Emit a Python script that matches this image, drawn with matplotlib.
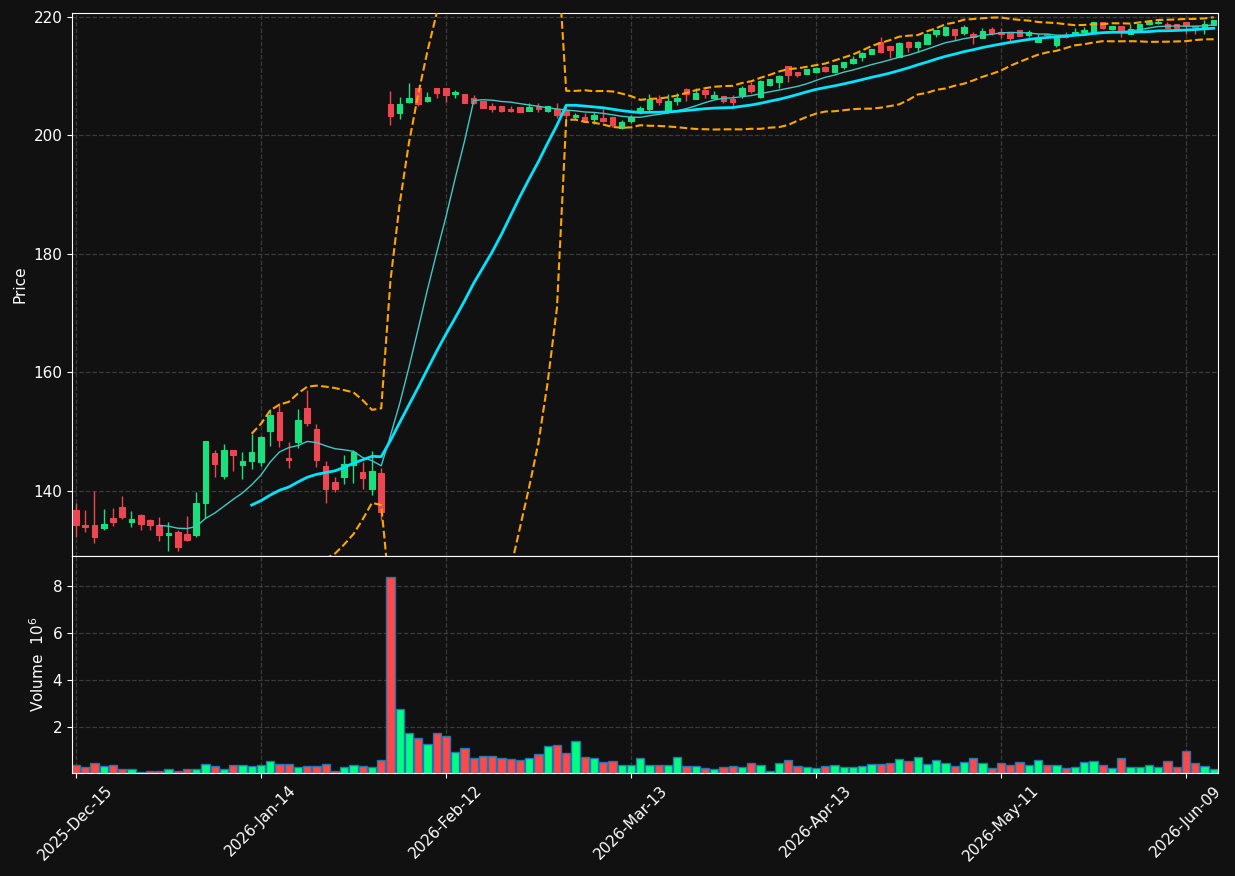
import numpy as np
import pandas as pd
import matplotlib
matplotlib.use("Agg")
import matplotlib.pyplot as plt

# торговые дни (биржевые праздники пропущены)
holidays = ["2025-12-25", "2026-01-01", "2026-01-19", "2026-02-16", "2026-04-03", "2026-05-25"]
dates = pd.bdate_range("2025-12-15", periods=124, freq="C", holidays=holidays)

opens = [136.8, 134.2, 134.3, 133.8, 135.4, 137.3, 134.8, 136.0, 135.1, 134.3,
         132.6, 133.0, 132.7, 132.6, 138.0, 146.4, 142.5, 146.9, 144.4, 145.1,
         144.9, 150.1, 153.3, 145.6, 148.3, 154.0, 150.5, 144.2, 141.5, 142.4,
         144.4, 143.2, 140.3, 143.0, 205.3, 203.8, 205.7, 208.0, 205.9, 208.0,
         208.0, 207.0, 207.0, 206.4, 205.8, 204.9, 205.0, 204.5, 204.8, 204.2,
         204.9, 204.2, 204.4, 204.3, 203.2, 203.2, 202.7, 203.0, 203.2, 201.2,
         202.5, 203.9, 204.4, 206.1, 204.2, 205.8, 207.8, 206.2, 207.6, 206.3,
         206.7, 206.2, 206.8, 208.5, 206.5, 208.5, 209.0, 211.7, 210.7, 210.4,
         210.8, 211.6, 210.7, 211.6, 212.3, 213.2, 213.8, 215.8, 215.1, 213.3,
         215.7, 214.9, 215.4, 217.1, 217.0, 218.0, 217.3, 217.1, 216.5, 218.0,
         217.4, 217.4, 217.8, 217.0, 215.8, 217.1, 215.3, 216.9, 217.1, 217.4,
         217.5, 219.1, 218.0, 218.5, 217.2, 217.8, 218.8, 219.0, 218.9, 218.9,
         219.2, 218.4, 218.1, 218.6]
highs = [137.9, 136.8, 140.0, 136.9, 137.1, 139.2, 136.6, 136.1, 135.2, 135.6,
         134.8, 133.4, 135.8, 139.8, 148.5, 146.9, 147.9, 147.0, 146.6, 149.6,
         149.2, 153.8, 154.8, 148.3, 153.8, 157.0, 151.3, 145.1, 142.4, 146.0,
         146.9, 144.9, 146.7, 143.9, 207.5, 206.5, 208.8, 208.0, 207.4, 208.0,
         208.0, 207.7, 207.0, 206.8, 205.8, 205.4, 205.0, 205.0, 204.8, 205.4,
         205.4, 205.0, 205.4, 205.0, 203.8, 203.8, 203.9, 204.6, 203.2, 202.6,
         203.4, 205.0, 207.0, 206.8, 207.0, 207.2, 208.1, 208.1, 207.9, 207.5,
         206.7, 206.8, 208.3, 209.1, 209.4, 209.6, 210.2, 211.7, 210.7, 211.3,
         211.6, 211.7, 211.9, 212.4, 213.5, 214.1, 214.6, 216.6, 215.1, 215.7,
         216.0, 216.0, 217.3, 217.8, 218.5, 218.0, 218.6, 217.5, 218.1, 218.3,
         218.1, 217.4, 217.8, 217.8, 217.1, 217.2, 216.6, 217.4, 218.1, 218.3,
         219.2, 219.1, 218.5, 218.5, 218.8, 218.8, 219.5, 219.7, 219.2, 218.9,
         219.2, 218.4, 219.5, 219.5]
lows = [132.3, 133.1, 131.3, 133.5, 134.1, 135.2, 133.9, 133.5, 133.4, 131.6,
        129.9, 129.8, 131.6, 132.3, 135.4, 142.4, 142.0, 143.4, 142.1, 143.7,
        144.3, 147.6, 147.5, 143.8, 147.2, 150.9, 144.0, 137.9, 139.9, 141.1,
        141.4, 140.4, 139.4, 135.1, 201.7, 202.7, 205.4, 204.9, 205.7, 206.3,
        205.6, 206.3, 205.4, 205.3, 204.6, 204.0, 204.0, 204.0, 203.9, 204.1,
        203.9, 204.0, 202.9, 202.9, 202.8, 202.3, 201.9, 202.3, 201.5, 201.1,
        202.1, 203.6, 204.2, 205.1, 203.8, 205.2, 205.9, 206.1, 206.4, 206.2,
        205.4, 205.0, 206.4, 207.2, 206.3, 208.4, 208.1, 209.1, 209.9, 210.3,
        210.6, 210.8, 210.7, 211.2, 212.1, 212.6, 213.8, 214.0, 213.0, 213.3,
        214.1, 214.1, 215.4, 216.6, 216.8, 216.2, 217.0, 215.5, 216.5, 217.0,
        216.4, 216.0, 216.8, 216.6, 215.8, 216.6, 215.0, 216.4, 217.1, 217.4,
        217.5, 218.0, 217.8, 216.7, 217.2, 217.8, 218.7, 218.8, 218.1, 218.2,
        217.1, 217.1, 217.2, 218.6]
closes = [134.3, 134.0, 132.3, 134.4, 134.8, 135.6, 135.3, 134.4, 134.3, 132.6,
          132.9, 130.6, 131.7, 137.9, 148.4, 144.6, 146.9, 146.0, 145.1, 146.5,
          149.1, 152.8, 148.6, 145.2, 152.0, 151.4, 145.2, 140.3, 140.3, 144.6,
          146.6, 142.2, 143.4, 136.5, 203.3, 205.3, 206.4, 205.3, 206.5, 207.1,
          206.8, 207.4, 205.5, 205.4, 204.7, 204.5, 204.2, 204.2, 204.0, 204.8,
          204.5, 205.0, 203.5, 203.5, 203.4, 202.6, 203.5, 202.5, 201.7, 202.2,
          203.1, 204.7, 206.2, 205.7, 205.9, 206.4, 207.0, 207.2, 207.0, 206.8,
          205.8, 205.6, 208.1, 207.5, 209.2, 209.5, 210.0, 210.2, 210.2, 211.2,
          211.4, 210.9, 211.9, 212.4, 212.9, 213.9, 214.6, 214.1, 214.4, 215.6,
          214.9, 215.8, 217.2, 217.8, 218.3, 217.0, 218.3, 216.7, 217.6, 217.3,
          217.2, 216.5, 216.8, 217.4, 216.5, 216.9, 216.4, 216.7, 217.5, 217.8,
          219.1, 218.1, 218.5, 217.7, 218.0, 218.8, 219.2, 219.2, 218.1, 218.2,
          218.6, 218.3, 218.9, 219.5]
# объём, млн
volumes = [0.40, 0.28, 0.48, 0.33, 0.40, 0.20, 0.20, 0.09, 0.11, 0.11,
           0.20, 0.14, 0.20, 0.20, 0.41, 0.33, 0.20, 0.37, 0.37, 0.33,
           0.37, 0.54, 0.41, 0.41, 0.28, 0.33, 0.33, 0.41, 0.14, 0.28,
           0.37, 0.33, 0.28, 0.58, 8.40, 2.75, 1.73, 1.52, 1.26, 1.73,
           1.60, 0.92, 1.09, 0.67, 0.75, 0.75, 0.67, 0.63, 0.58, 0.67,
           0.84, 1.18, 1.22, 0.88, 1.39, 0.71, 0.67, 0.50, 0.54, 0.40,
           0.40, 0.67, 0.40, 0.40, 0.40, 0.71, 0.33, 0.33, 0.24, 0.20,
           0.28, 0.33, 0.28, 0.46, 0.37, 0.14, 0.46, 0.58, 0.33, 0.28,
           0.24, 0.33, 0.37, 0.28, 0.28, 0.33, 0.41, 0.41, 0.46, 0.63,
           0.54, 0.71, 0.41, 0.58, 0.46, 0.33, 0.50, 0.67, 0.46, 0.24,
           0.46, 0.37, 0.50, 0.37, 0.58, 0.37, 0.37, 0.24, 0.28, 0.50,
           0.54, 0.37, 0.24, 0.67, 0.28, 0.28, 0.37, 0.28, 0.54, 0.28,
           0.98, 0.46, 0.33, 0.20]

BG = "#111111"
UP, DOWN = "#19e07c", "#ee4650"
VUP, VDOWN = "#00ff80", "#ff4848"

df = pd.DataFrame({"Open": opens, "High": highs, "Low": lows,
                   "Close": closes, "Volume": volumes}, index=dates)
x = np.arange(len(df))
up = df["Close"] >= df["Open"]

ma10 = df["Close"].rolling(10).mean()
ma20 = df["Close"].rolling(20).mean()
std20 = df["Close"].rolling(20).std()
bb_up = ma20 + 2 * std20
bb_lo = ma20 - 2 * std20

fig = plt.figure(figsize=(12.35, 8.76), dpi=100, facecolor=BG)
ax = fig.add_axes([0.0583, 0.3653, 0.9279, 0.6199], facecolor=BG)
axv = fig.add_axes([0.0583, 0.1176, 0.9279, 0.2477], facecolor=BG, sharex=ax)

for a in (ax, axv):
    for s in a.spines.values():
        s.set_color("white")
    a.tick_params(colors="white", labelsize=11)
    a.grid(True, linestyle="--", color="#3a3a3a", linewidth=0.9)
    a.set_axisbelow(True)

# свечи
cols = np.where(up, UP, DOWN)
ax.vlines(x, df["Low"], df["High"], colors=cols, linewidth=1, zorder=2)
body_lo = np.minimum(df["Open"], df["Close"])
body_h = (df["Close"] - df["Open"]).abs()
ax.bar(x, body_h, bottom=body_lo, width=0.6, color=cols, edgecolor=cols,
       linewidth=0.8, zorder=3)

ax.plot(x, ma10, color="#3fc9c4", linewidth=1, zorder=4)
ax.plot(x, ma20, color="#00e5ff", linewidth=2, zorder=4)
ax.plot(x, bb_up, color="#ffa500", linestyle="--", linewidth=1.5, zorder=4)
ax.plot(x, bb_lo, color="#ffa500", linestyle="--", linewidth=1.5, zorder=4)

ax.set_ylim(129.03, 220.68)
ax.set_yticks([140, 160, 180, 200, 220])
ax.set_ylabel("Price", color="white", fontsize=11)
ax.tick_params(axis="x", labelbottom=False)

# объём
vcols = np.where(up, VUP, VDOWN)
axv.bar(x, df["Volume"], width=0.88, color=vcols, edgecolor="#1f77b4", linewidth=1)
axv.set_ylim(0.043, 9.28)
axv.set_yticks([2, 4, 6, 8])
axv.set_ylabel("Volume  $10^{6}$", color="white", fontsize=11)

ticks = list(range(0, len(df), 20))
axv.set_xticks(ticks)
axv.set_xticklabels([dates[i].strftime("%Y-%b-%d") for i in ticks],
                    rotation=45, ha="center")
axv.set_xlim(-0.43, 123.46)

fig.savefig("out.png", dpi=100, facecolor=BG)
